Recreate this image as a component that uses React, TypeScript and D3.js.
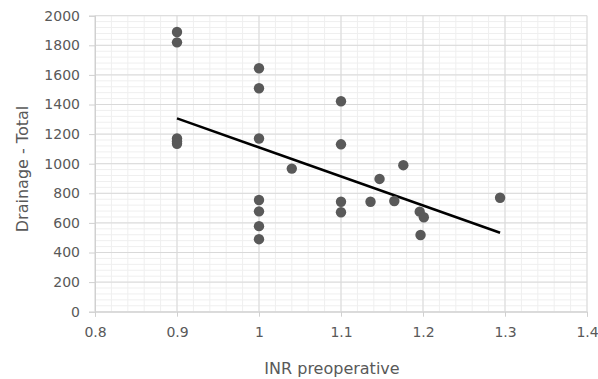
import React, { useEffect, useRef } from 'react';
import * as d3 from 'd3';

// INR preoperative vs total drainage
const inrValues = [0.9, 0.9, 0.9, 0.9, 0.9, 1, 1, 1, 1, 1, 1, 1, 1.04, 1.1, 1.1, 1.1, 1.1, 1.136, 1.147, 1.165, 1.176, 1.196, 1.201, 1.197, 1.294];
const drainageValues = [1890, 1820, 1170, 1150, 1135, 1645, 1510, 1170, 755, 678, 578, 490, 967, 1422, 1131, 743, 672, 743, 897, 748, 990, 676, 638, 518, 770];

const xTicks = [0.8, 0.9, 1, 1.1, 1.2, 1.3, 1.4];
const yTicks = [0, 200, 400, 600, 800, 1000, 1200, 1400, 1600, 1800, 2000];

const xTitle = 'INR preoperative';
const yTitle = 'Drainage - Total';

const App: React.FC = () => {
  const svgRef = useRef<SVGSVGElement>(null);

  useEffect(() => {
    if (!svgRef.current) return;
    d3.select(svgRef.current).selectAll('*').remove();

    const width = 598;
    const height = 379;
    const margin = { top: 15.7, right: 11, bottom: 67.3, left: 95 };
    const innerW = width - margin.left - margin.right;
    const innerH = height - margin.top - margin.bottom;
    const font = '"DejaVu Sans", Verdana, sans-serif';

    const svg = d3.select(svgRef.current).attr('width', width).attr('height', height);
    svg.append('rect').attr('width', width).attr('height', height).attr('fill', '#fff');

    const g = svg.append('g').attr('transform', `translate(${margin.left},${margin.top})`);

    const x = d3.scaleLinear().domain([0.8, 1.4]).range([0, innerW]);
    const y = d3.scaleLinear().domain([0, 2000]).range([innerH, 0]);

    // minor gridlines
    const xMinor = d3.range(0.8, 1.4001, 0.02);
    const yMinor = d3.range(0, 2000.1, 40);
    g.append('g')
      .selectAll('line')
      .data(xMinor)
      .enter()
      .append('line')
      .attr('x1', d => x(d))
      .attr('x2', d => x(d))
      .attr('y1', 0)
      .attr('y2', innerH)
      .attr('stroke', '#efefef')
      .attr('stroke-width', 1);
    g.append('g')
      .selectAll('line')
      .data(yMinor)
      .enter()
      .append('line')
      .attr('x1', 0)
      .attr('x2', innerW)
      .attr('y1', d => y(d))
      .attr('y2', d => y(d))
      .attr('stroke', '#efefef')
      .attr('stroke-width', 1);

    // major gridlines
    g.append('g')
      .selectAll('line')
      .data(xTicks)
      .enter()
      .append('line')
      .attr('x1', d => x(d))
      .attr('x2', d => x(d))
      .attr('y1', 0)
      .attr('y2', innerH)
      .attr('stroke', '#d9d9d9')
      .attr('stroke-width', 1);
    g.append('g')
      .selectAll('line')
      .data(yTicks)
      .enter()
      .append('line')
      .attr('x1', 0)
      .attr('x2', innerW)
      .attr('y1', d => y(d))
      .attr('y2', d => y(d))
      .attr('stroke', '#d9d9d9')
      .attr('stroke-width', 1);

    // axes
    const xAxis = g
      .append('g')
      .attr('transform', `translate(0,${innerH})`)
      .call(d3.axisBottom(x).tickValues(xTicks).tickSize(5).tickPadding(10).tickFormat(d => String(d)));
    const yAxis = g
      .append('g')
      .call(d3.axisLeft(y).tickValues(yTicks).tickSize(6).tickPadding(9).tickFormat(d => String(d)));
    [xAxis, yAxis].forEach(a => {
      a.select('.domain').attr('stroke', '#d0d0d0');
      a.selectAll('.tick line').attr('stroke', '#d0d0d0');
      a.selectAll('.tick text')
        .attr('fill', '#595959')
        .attr('font-family', font)
        .attr('font-size', '14px');
    });

    // trendline (least squares)
    const n = inrValues.length;
    const mx = d3.mean(inrValues) as number;
    const my = d3.mean(drainageValues) as number;
    let sxy = 0;
    let sxx = 0;
    for (let i = 0; i < n; i++) {
      sxy += (inrValues[i] - mx) * (drainageValues[i] - my);
      sxx += (inrValues[i] - mx) ** 2;
    }
    const slope = sxy / sxx;
    const intercept = my - slope * mx;
    const [x0, x1] = d3.extent(inrValues) as [number, number];
    g.append('line')
      .attr('x1', x(x0))
      .attr('y1', y(intercept + slope * x0))
      .attr('x2', x(x1))
      .attr('y2', y(intercept + slope * x1))
      .attr('stroke', '#000')
      .attr('stroke-width', 2.5);

    // points
    g.append('g')
      .selectAll('circle')
      .data(inrValues)
      .enter()
      .append('circle')
      .attr('cx', d => x(d))
      .attr('cy', (_, i) => y(drainageValues[i]))
      .attr('r', 5.2)
      .attr('fill', '#595959');

    // titles
    svg
      .append('text')
      .attr('x', 332)
      .attr('y', 373.5)
      .attr('text-anchor', 'middle')
      .attr('fill', '#595959')
      .attr('font-family', font)
      .attr('font-size', '16px')
      .text(xTitle);
    svg
      .append('text')
      .attr('transform', 'translate(28,169) rotate(-90)')
      .attr('text-anchor', 'middle')
      .attr('fill', '#595959')
      .attr('font-family', font)
      .attr('font-size', '16px')
      .text(yTitle);
  }, []);

  return <svg ref={svgRef} style={{ position: 'absolute', left: 0, top: 0, display: 'block' }}></svg>;
};

export default App;
